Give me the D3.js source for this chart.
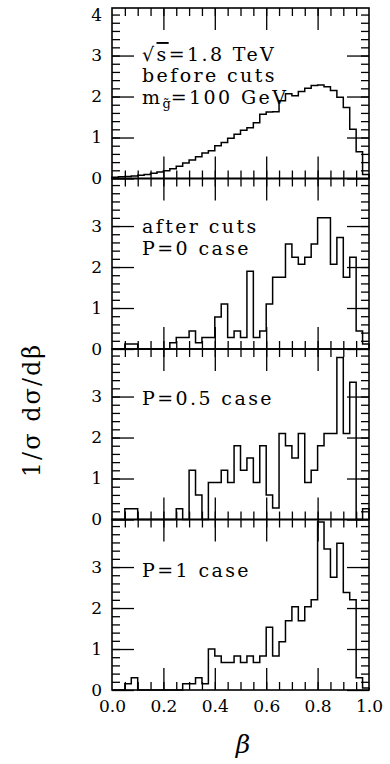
<!DOCTYPE html>
<html>
<head>
<meta charset="utf-8">
<script src="https://cdn.jsdelivr.net/npm/d3@7"></script>
<style>
  body { margin: 0; background: #fff; }
  svg text { font-family: "DejaVu Serif", serif; fill: #000; }
</style>
</head>
<body>
<div id="chart"></div>
<script>
// histogram data, 40 bins of width 0.025 in beta
var binWidth = 0.025;

var beforeCuts = [0.03, 0.04, 0.05, 0.06, 0.08, 0.10, 0.13, 0.16, 0.19, 0.24,
  0.30, 0.38, 0.45, 0.53, 0.62, 0.68, 0.80, 0.88, 0.98, 1.08,
  1.18, 1.24, 1.36, 1.57, 1.62, 1.63, 1.90, 2.07, 2.02, 2.12,
  2.20, 2.27, 2.28, 2.24, 2.15, 1.98, 1.73, 1.20, 0.65, 0.10];

var caseP0 = [0, 0, 0.12, 0.12, 0, 0, 0, 0, 0, 0.15,
  0.28, 0.28, 0.44, 0.15, 0.28, 0.28, 0.78, 1.10, 0.28, 0.44,
  0.28, 1.90, 0.28, 0.44, 1.10, 1.75, 1.75, 2.56, 2.24, 2.07,
  2.24, 2.56, 3.20, 3.20, 2.07, 2.72, 1.75, 2.24, 0.44, 0.12];

var caseP05 = [0, 0, 0.26, 0.26, 0, 0, 0, 0, 0, 0,
  0.26, 0, 1.20, 0.60, 0, 0.90, 0.90, 1.20, 0.90, 1.80,
  1.20, 1.50, 0.90, 1.80, 0.60, 0.28, 2.10, 1.80, 1.50, 2.10,
  0.90, 1.20, 1.80, 2.10, 2.10, 3.95, 2.10, 3.35, 0, 0.26];

var caseP1 = [0, 0, 0.15, 0.30, 0, 0, 0, 0, 0, 0,
  0, 0.15, 0.15, 0.30, 0.15, 1.00, 0.83, 0.67, 0.67, 0.83,
  0.67, 0.83, 0.67, 0.83, 1.53, 0.83, 1.18, 1.69, 2.03, 1.69,
  2.03, 2.20, 4.10, 3.44, 2.75, 3.58, 2.38, 2.20, 0.30, 0.05];

var xTickLabels = [0.0, 0.2, 0.4, 0.6, 0.8, 1.0];
var yMajorTicks = [0, 1, 2, 3];

var svgWidth = 390;
var svgHeight = 764;
var margin = { top: 8, left: 112 };
var width = 257;
var panelHeight = 170.5;
var yMax = 4.16;

var svg = d3.select("#chart")
  .append("svg")
  .attr("width", svgWidth)
  .attr("height", svgHeight);

var x = d3.scaleLinear().domain([0, 1]).range([0, width]);
var y = d3.scaleLinear().domain([0, yMax]).range([panelHeight, 0]);

var xMinor = d3.range(0.05, 0.99, 0.05);
var xMajor = [0.2, 0.4, 0.6, 0.8];
var yMinor = d3.range(0.2, 4.01, 0.2);

var panels = [
  { values: beforeCuts, yLabels: [0, 1, 2, 3, 4] },
  { values: caseP0, yLabels: [0, 1, 2, 3] },
  { values: caseP05, yLabels: [0, 1, 2, 3] },
  { values: caseP1, yLabels: [0, 1, 2, 3] }
];

function styleTicks(g) {
  g.select(".domain").remove();
  g.selectAll(".tick line").attr("stroke", "#000").attr("stroke-width", 1.3);
}

panels.forEach(function (p, i) {
  var g = svg.append("g")
    .attr("transform", `translate(${margin.left}, ${margin.top + i * panelHeight})`);

  // ticks on all four sides, pointing inward
  g.append("g").call(d3.axisLeft(y).tickValues(yMajorTicks).tickSize(-22).tickFormat("")).call(styleTicks);
  g.append("g").call(d3.axisLeft(y).tickValues(yMinor).tickSize(-8).tickFormat("")).call(styleTicks);
  g.append("g").attr("transform", `translate(${width},0)`)
    .call(d3.axisRight(y).tickValues(yMajorTicks).tickSize(-22).tickFormat("")).call(styleTicks);
  g.append("g").attr("transform", `translate(${width},0)`)
    .call(d3.axisRight(y).tickValues(yMinor).tickSize(-8).tickFormat("")).call(styleTicks);
  g.append("g").call(d3.axisTop(x).tickValues(xMajor).tickSize(-22).tickFormat("")).call(styleTicks);
  g.append("g").call(d3.axisTop(x).tickValues(xMinor).tickSize(-8).tickFormat("")).call(styleTicks);
  g.append("g").attr("transform", `translate(0,${panelHeight})`)
    .call(d3.axisBottom(x).tickValues(xMajor).tickSize(-22).tickFormat("")).call(styleTicks);
  g.append("g").attr("transform", `translate(0,${panelHeight})`)
    .call(d3.axisBottom(x).tickValues(xMinor).tickSize(-8).tickFormat("")).call(styleTicks);

  // y tick labels
  var yl = g.append("g")
    .call(d3.axisLeft(y).tickValues(p.yLabels).tickSize(0).tickPadding(10).tickFormat(d3.format("d")));
  yl.select(".domain").remove();
  yl.selectAll("text").style("font-family", "DejaVu Serif").style("font-size", "17px");

  // histogram as a step line
  var pts = [{ b: 0, v: 0 }];
  p.values.forEach(function (v, k) {
    pts.push({ b: k * binWidth, v: v });
    pts.push({ b: (k + 1) * binWidth, v: v });
  });
  pts.push({ b: 1, v: 0 });

  var line = d3.line()
    .x(d => x(d.b))
    .y(d => y(Math.min(d.v, yMax)));

  g.append("path")
    .datum(pts)
    .attr("d", line)
    .attr("fill", "none")
    .attr("stroke", "#000")
    .attr("stroke-width", 1.5);

  // frame
  g.append("rect")
    .attr("width", width)
    .attr("height", panelHeight)
    .attr("fill", "none")
    .attr("stroke", "#000")
    .attr("stroke-width", 1.6);

  // panel text
  var t = g.append("g").style("font-size", "19px").style("letter-spacing", "2.4px");
  if (i === 0) {
    var l1 = t.append("text").attr("x", 30).attr("y", 53);
    l1.append("tspan").text("\u221A");
    l1.append("tspan").style("text-decoration", "overline").text("s");
    l1.append("tspan").text("=1.8 TeV");
    t.append("text").attr("x", 30).attr("y", 74).text("before cuts");
    var l3 = t.append("text").attr("x", 30).attr("y", 96);
    l3.append("tspan").text("m");
    l3.append("tspan").attr("dy", 4).style("font-size", "13px").style("letter-spacing", "0px").text("g\u0303");
    l3.append("tspan").attr("dy", -4).text("=100 GeV");
  } else if (i === 1) {
    t.append("text").attr("x", 30).attr("y", 54).text("after cuts");
    t.append("text").attr("x", 30).attr("y", 76).text("P=0 case");
  } else if (i === 2) {
    t.append("text").attr("x", 30).attr("y", 56).text("P=0.5 case");
  } else {
    t.append("text").attr("x", 30).attr("y", 57.5).text("P=1 case");
  }

  // x tick labels on the bottom panel only
  if (i === panels.length - 1) {
    var xl = g.append("g")
      .attr("transform", `translate(0,${panelHeight})`)
      .call(d3.axisBottom(x).tickValues(xTickLabels).tickSize(0).tickPadding(10).tickFormat(d3.format(".1f")));
    xl.select(".domain").remove();
    xl.selectAll("text").style("font-family", "DejaVu Serif").style("font-size", "17px");
  }
});

// axis titles
svg.append("text")
  .attr("x", margin.left + x(0.51))
  .attr("y", 753)
  .attr("text-anchor", "middle")
  .style("font-size", "25px")
  .style("font-style", "italic")
  .text("\u03B2");

svg.append("text")
  .attr("transform", "translate(40, 410) rotate(-90)")
  .attr("text-anchor", "middle")
  .style("font-size", "24px")
  .style("letter-spacing", "2px")
  .text("1/\u03C3 d\u03C3/d\u03B2");
</script>
</body>
</html>
